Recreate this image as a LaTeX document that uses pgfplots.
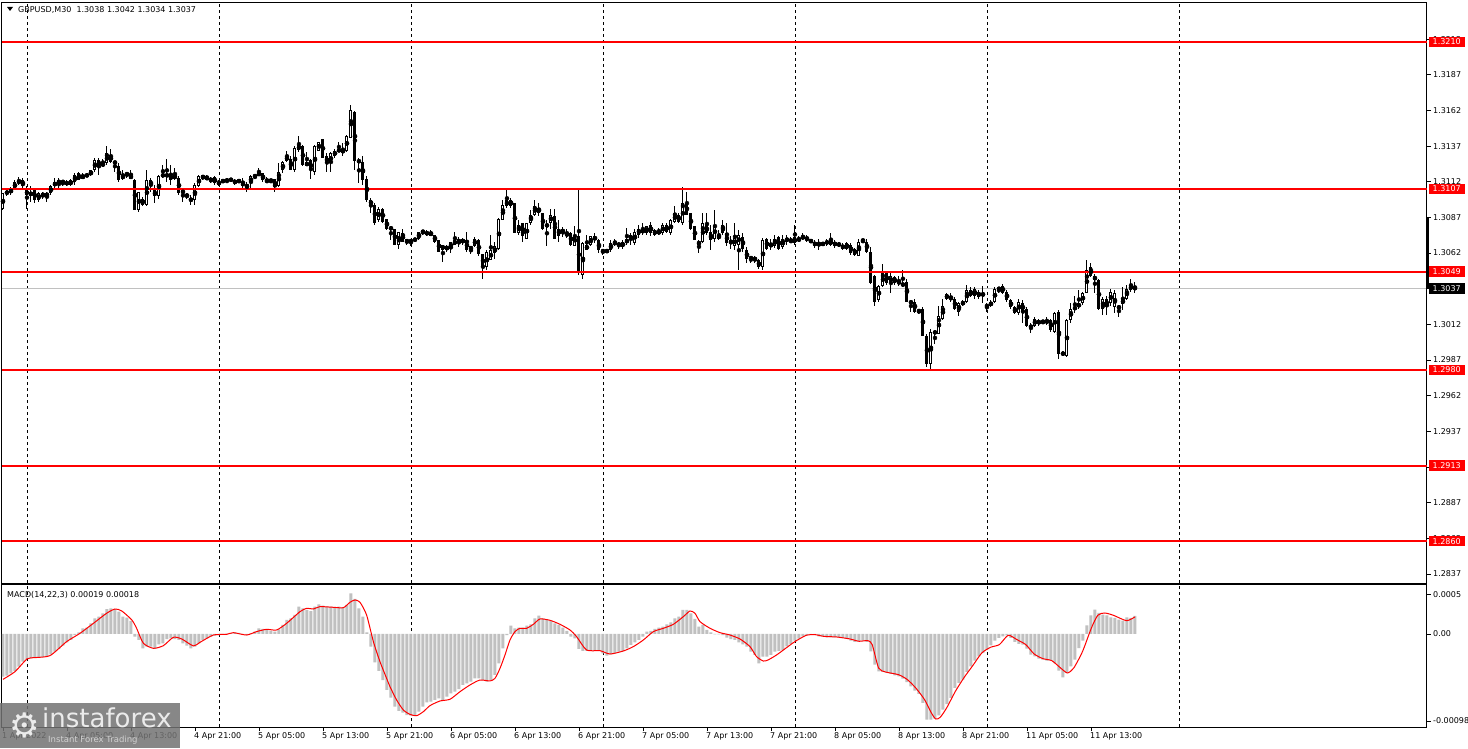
\documentclass[border=0pt]{standalone}
\usepackage{pgfplots}
\pgfplotsset{compat=1.18}
\usepackage{pgfplotstable}
\usepackage{fontspec}
\setmainfont{DejaVu Sans}
\definecolor{mtred}{RGB}{255,0,0}
\definecolor{mtsilver}{RGB}{192,192,192}

% GBPUSD M30 candles: bar index (4 px per bar), open high low close
\pgfplotstableread{
i o h l c
-6 1.3093 1.3104 1.3092 1.3104
-5 1.3104 1.3107 1.3102 1.3105
-4 1.3105 1.3108 1.3103 1.3106
-3 1.3107 1.3113 1.3106 1.3112
-2 1.3113 1.3115 1.3110 1.3111
-1 1.3113 1.3115 1.3106 1.3109
0 1.3106 1.3109 1.3093 1.3103
1 1.3102 1.3109 1.3098 1.3105
2 1.3106 1.3108 1.3097 1.3099
3 1.3099 1.3105 1.3098 1.3104
4 1.3103 1.3105 1.3100 1.3103
5 1.3104 1.3105 1.3098 1.3102
6 1.3104 1.3110 1.3103 1.3109
7 1.3109 1.3115 1.3106 1.3112
8 1.3111 1.3115 1.3106 1.3113
9 1.3112 1.3113 1.3109 1.3112
10 1.3112 1.3113 1.3109 1.3110
11 1.3110 1.3114 1.3109 1.3113
12 1.3112 1.3118 1.3110 1.3117
13 1.3118 1.3119 1.3113 1.3113
14 1.3114 1.3118 1.3114 1.3117
15 1.3116 1.3118 1.3115 1.3117
16 1.3117 1.3120 1.3116 1.3120
17 1.3120 1.3129 1.3119 1.3127
18 1.3127 1.3129 1.3117 1.3123
19 1.3123 1.3128 1.3123 1.3125
20 1.3125 1.3137 1.3124 1.3132
21 1.3131 1.3135 1.3125 1.3126
22 1.3126 1.3127 1.3119 1.3125
23 1.3123 1.3125 1.3112 1.3113
24 1.3114 1.3120 1.3113 1.3117
25 1.3117 1.3119 1.3115 1.3118
26 1.3117 1.3120 1.3114 1.3114
27 1.3113 1.3114 1.3092 1.3092
28 1.3092 1.3105 1.3091 1.3105
29 1.3100 1.3101 1.3095 1.3096
30 1.3096 1.3120 1.3095 1.3113
31 1.3113 1.3115 1.3105 1.3109
32 1.3106 1.3110 1.3097 1.3102
33 1.3102 1.3117 1.3100 1.3116
34 1.3116 1.3124 1.3115 1.3117
35 1.3117 1.3128 1.3112 1.3116
36 1.3113 1.3124 1.3110 1.3117
37 1.3117 1.3122 1.3113 1.3114
38 1.3115 1.3116 1.3103 1.3104
39 1.3106 1.3107 1.3098 1.3104
40 1.3103 1.3104 1.3100 1.3102
41 1.3100 1.3103 1.3096 1.3099
42 1.3099 1.3111 1.3096 1.3110
43 1.3109 1.3117 1.3108 1.3116
44 1.3114 1.3117 1.3113 1.3117
45 1.3116 1.3117 1.3113 1.3113
46 1.3114 1.3115 1.3111 1.3113
47 1.3115 1.3116 1.3110 1.3111
48 1.3110 1.3113 1.3109 1.3112
49 1.3112 1.3114 1.3111 1.3113
50 1.3113 1.3114 1.3111 1.3113
51 1.3113 1.3115 1.3112 1.3114
52 1.3112 1.3114 1.3110 1.3112
53 1.3112 1.3114 1.3111 1.3113
54 1.3112 1.3115 1.3108 1.3109
55 1.3108 1.3112 1.3105 1.3110
56 1.3111 1.3117 1.3107 1.3116
57 1.3116 1.3117 1.3114 1.3116
58 1.3116 1.3122 1.3116 1.3119
59 1.3118 1.3118 1.3112 1.3113
60 1.3112 1.3115 1.3111 1.3113
61 1.3112 1.3114 1.3112 1.3113
62 1.3114 1.3114 1.3105 1.3108
63 1.3109 1.3125 1.3108 1.3119
64 1.3120 1.3127 1.3118 1.3126
65 1.3127 1.3134 1.3126 1.3130
66 1.3128 1.3130 1.3120 1.3120
67 1.3120 1.3137 1.3119 1.3136
68 1.3134 1.3144 1.3133 1.3138
69 1.3137 1.3138 1.3123 1.3124
70 1.3126 1.3133 1.3123 1.3123
71 1.3127 1.3128 1.3114 1.3120
72 1.3119 1.3138 1.3117 1.3137
73 1.3134 1.3140 1.3134 1.3140
74 1.3142 1.3142 1.3129 1.3129
75 1.3130 1.3132 1.3119 1.3125
76 1.3125 1.3133 1.3119 1.3132
77 1.3130 1.3135 1.3129 1.3134
78 1.3133 1.3140 1.3133 1.3135
79 1.3135 1.3139 1.3130 1.3132
80 1.3134 1.3145 1.3133 1.3144
81 1.3143 1.3166 1.3143 1.3162
82 1.3161 1.3162 1.3120 1.3127
83 1.3127 1.3129 1.3111 1.3126
84 1.3126 1.3130 1.3110 1.3113
85 1.3114 1.3116 1.3098 1.3099
86 1.3099 1.3101 1.3090 1.3096
87 1.3096 1.3097 1.3082 1.3083
88 1.3085 1.3094 1.3084 1.3093
89 1.3093 1.3094 1.3083 1.3084
90 1.3086 1.3086 1.3078 1.3079
91 1.3080 1.3081 1.3071 1.3079
92 1.3079 1.3079 1.3068 1.3068
93 1.3068 1.3077 1.3065 1.3077
94 1.3076 1.3079 1.3070 1.3070
95 1.3072 1.3072 1.3068 1.3069
96 1.3070 1.3072 1.3067 1.3071
97 1.3072 1.3073 1.3070 1.3071
98 1.3072 1.3077 1.3071 1.3077
99 1.3076 1.3078 1.3075 1.3078
100 1.3077 1.3078 1.3074 1.3075
101 1.3074 1.3078 1.3074 1.3077
102 1.3075 1.3075 1.3069 1.3070
103 1.3071 1.3071 1.3063 1.3063
104 1.3064 1.3068 1.3056 1.3068
105 1.3067 1.3068 1.3063 1.3064
106 1.3065 1.3070 1.3062 1.3070
107 1.3068 1.3077 1.3068 1.3071
108 1.3072 1.3073 1.3066 1.3069
109 1.3069 1.3073 1.3068 1.3072
110 1.3071 1.3077 1.3063 1.3064
111 1.3064 1.3067 1.3061 1.3067
112 1.3067 1.3073 1.3066 1.3072
113 1.3071 1.3072 1.3060 1.3061
114 1.3061 1.3061 1.3044 1.3052
115 1.3052 1.3064 1.3050 1.3063
116 1.3057 1.3075 1.3057 1.3064
117 1.3062 1.3070 1.3058 1.3067
118 1.3065 1.3087 1.3064 1.3086
119 1.3085 1.3099 1.3085 1.3096
120 1.3095 1.3107 1.3094 1.3099
121 1.3099 1.3101 1.3094 1.3095
122 1.3097 1.3097 1.3076 1.3076
123 1.3076 1.3085 1.3075 1.3082
124 1.3083 1.3083 1.3070 1.3074
125 1.3072 1.3083 1.3072 1.3083
126 1.3083 1.3092 1.3082 1.3089
127 1.3089 1.3099 1.3088 1.3095
128 1.3094 1.3097 1.3088 1.3090
129 1.3090 1.3090 1.3078 1.3079
130 1.3082 1.3085 1.3067 1.3081
131 1.3083 1.3093 1.3079 1.3089
132 1.3088 1.3093 1.3072 1.3072
133 1.3079 1.3085 1.3070 1.3074
134 1.3079 1.3080 1.3073 1.3076
135 1.3076 1.3079 1.3073 1.3074
136 1.3076 1.3077 1.3067 1.3068
137 1.3067 1.3081 1.3067 1.3075
138 1.3074 1.3108 1.3047 1.3048
139 1.3047 1.3070 1.3044 1.3069
140 1.3064 1.3075 1.3064 1.3068
141 1.3068 1.3074 1.3067 1.3074
142 1.3074 1.3076 1.3069 1.3071
143 1.3071 1.3072 1.3062 1.3064
144 1.3064 1.3065 1.3061 1.3063
145 1.3063 1.3065 1.3062 1.3064
146 1.3064 1.3071 1.3063 1.3069
147 1.3068 1.3072 1.3067 1.3070
148 1.3069 1.3070 1.3065 1.3067
149 1.3066 1.3071 1.3065 1.3070
150 1.3069 1.3080 1.3068 1.3072
151 1.3071 1.3076 1.3068 1.3075
152 1.3069 1.3079 1.3068 1.3077
153 1.3075 1.3082 1.3073 1.3079
154 1.3079 1.3083 1.3075 1.3076
155 1.3076 1.3081 1.3075 1.3081
156 1.3082 1.3084 1.3074 1.3076
157 1.3075 1.3079 1.3074 1.3078
158 1.3076 1.3080 1.3075 1.3077
159 1.3076 1.3083 1.3075 1.3082
160 1.3082 1.3083 1.3076 1.3077
161 1.3076 1.3086 1.3075 1.3085
162 1.3084 1.3095 1.3083 1.3090
163 1.3089 1.3090 1.3083 1.3084
164 1.3083 1.3108 1.3082 1.3097
165 1.3097 1.3105 1.3089 1.3089
166 1.3090 1.3090 1.3078 1.3079
167 1.3081 1.3081 1.3071 1.3071
168 1.3068 1.3071 1.3062 1.3070
169 1.3070 1.3090 1.3069 1.3083
170 1.3082 1.3090 1.3075 1.3076
171 1.3077 1.3082 1.3064 1.3071
172 1.3072 1.3092 1.3070 1.3082
173 1.3072 1.3078 1.3071 1.3075
174 1.3082 1.3085 1.3075 1.3076
175 1.3076 1.3083 1.3067 1.3069
176 1.3069 1.3074 1.3065 1.3071
177 1.3067 1.3083 1.3064 1.3073
178 1.3068 1.3078 1.3050 1.3075
179 1.3073 1.3076 1.3063 1.3065
180 1.3064 1.3066 1.3055 1.3058
181 1.3058 1.3060 1.3055 1.3059
182 1.3058 1.3060 1.3055 1.3058
183 1.3057 1.3058 1.3051 1.3052
184 1.3052 1.3073 1.3050 1.3071
185 1.3072 1.3073 1.3064 1.3065
186 1.3066 1.3072 1.3064 1.3069
187 1.3067 1.3075 1.3066 1.3072
188 1.3073 1.3074 1.3064 1.3065
189 1.3066 1.3075 1.3065 1.3072
190 1.3073 1.3075 1.3068 1.3070
191 1.3070 1.3073 1.3069 1.3071
192 1.3069 1.3082 1.3068 1.3073
193 1.3071 1.3074 1.3070 1.3072
194 1.3072 1.3076 1.3071 1.3074
195 1.3073 1.3075 1.3070 1.3071
196 1.3071 1.3072 1.3069 1.3070
197 1.3070 1.3071 1.3066 1.3067
198 1.3068 1.3072 1.3064 1.3069
199 1.3068 1.3070 1.3067 1.3069
200 1.3069 1.3072 1.3067 1.3070
201 1.3071 1.3076 1.3067 1.3068
202 1.3070 1.3071 1.3066 1.3067
203 1.3067 1.3070 1.3066 1.3069
204 1.3068 1.3069 1.3064 1.3065
205 1.3065 1.3070 1.3064 1.3069
206 1.3068 1.3069 1.3061 1.3062
207 1.3061 1.3066 1.3060 1.3065
208 1.3060 1.3072 1.3060 1.3070
209 1.3070 1.3072 1.3070 1.3071
210 1.3070 1.3072 1.3062 1.3063
211 1.3063 1.3066 1.3040 1.3041
212 1.3046 1.3047 1.3025 1.3028
213 1.3029 1.3040 1.3028 1.3039
214 1.3039 1.3054 1.3038 1.3048
215 1.3048 1.3049 1.3040 1.3041
216 1.3041 1.3048 1.3034 1.3046
217 1.3041 1.3046 1.3040 1.3045
218 1.3042 1.3046 1.3039 1.3041
219 1.3039 1.3050 1.3038 1.3041
220 1.3042 1.3044 1.3028 1.3028
221 1.3028 1.3029 1.3021 1.3027
222 1.3028 1.3030 1.3020 1.3021
223 1.3022 1.3023 1.3019 1.3021
224 1.3023 1.3024 1.3004 1.3004
225 1.3004 1.3005 1.2982 1.2984
226 1.2984 1.3009 1.2980 1.3007
227 1.3007 1.3007 1.2998 1.3006
228 1.3005 1.3025 1.3005 1.3018
229 1.3016 1.3030 1.3015 1.3025
230 1.3030 1.3034 1.3029 1.3033
231 1.3032 1.3034 1.3028 1.3029
232 1.3030 1.3031 1.3022 1.3023
233 1.3021 1.3028 1.3018 1.3027
234 1.3026 1.3029 1.3025 1.3028
235 1.3028 1.3040 1.3027 1.3036
236 1.3036 1.3038 1.3031 1.3032
237 1.3032 1.3038 1.3030 1.3037
238 1.3031 1.3036 1.3030 1.3035
239 1.3034 1.3039 1.3027 1.3032
240 1.3025 1.3027 1.3021 1.3025
241 1.3025 1.3029 1.3024 1.3028
242 1.3028 1.3038 1.3027 1.3037
243 1.3037 1.3038 1.3034 1.3037
244 1.3039 1.3040 1.3033 1.3034
245 1.3035 1.3036 1.3028 1.3029
246 1.3029 1.3030 1.3023 1.3024
247 1.3024 1.3025 1.3019 1.3020
248 1.3020 1.3030 1.3019 1.3028
249 1.3027 1.3029 1.3013 1.3021
250 1.3023 1.3024 1.3010 1.3011
251 1.3012 1.3013 1.3006 1.3009
252 1.3011 1.3017 1.3010 1.3016
253 1.3015 1.3016 1.3011 1.3012
254 1.3014 1.3015 1.3012 1.3014
255 1.3013 1.3017 1.3012 1.3015
256 1.3015 1.3016 1.3007 1.3008
257 1.3007 1.3021 1.3006 1.3020
258 1.3021 1.3022 1.2988 1.2991
259 1.2992 1.2993 1.2990 1.2991
260 1.2990 1.3016 1.2989 1.3015
261 1.3015 1.3027 1.3013 1.3023
262 1.3023 1.3032 1.3020 1.3024
263 1.3024 1.3036 1.3023 1.3027
264 1.3027 1.3035 1.3026 1.3034
265 1.3034 1.3057 1.3034 1.3050
266 1.3052 1.3055 1.3045 1.3046
267 1.3046 1.3047 1.3034 1.3043
268 1.3043 1.3044 1.3022 1.3023
269 1.3023 1.3031 1.3019 1.3030
270 1.3030 1.3032 1.3019 1.3024
271 1.3027 1.3037 1.3025 1.3035
272 1.3024 1.3036 1.3020 1.3034
273 1.3025 1.3026 1.3017 1.3023
274 1.3026 1.3038 1.3022 1.3030
275 1.3030 1.3040 1.3029 1.3037
276 1.3040 1.3044 1.3035 1.3036
277 1.3038 1.3042 1.3034 1.3037
}\candles

% MACD(14,22,3) histogram, in units of 0.00001
\pgfplotstableread{
i v
-6 -45.0
-5 -43.9
-4 -41.4
-3 -39.0
-2 -34.4
-1 -29.2
0 -26.3
1 -25.6
2 -24.9
3 -24.9
4 -24.2
5 -23.5
6 -21.4
7 -18.6
8 -15.8
9 -12.3
10 -8.8
11 -6.3
12 -1.1
13 1.8
14 6.0
15 6.7
16 11.2
17 16.5
18 18.3
19 21.8
20 26.3
21 27.0
22 26.3
23 23.5
24 18.3
25 17.2
26 13.7
27 -2.8
28 -6.3
29 -15.1
30 -13.3
31 -13.3
32 -15.8
33 -10.9
34 -9.8
35 -5.3
36 -4.6
37 -5.3
38 -6.3
39 -9.8
40 -12.3
41 -15.1
42 -13.3
43 -9.8
44 -6.3
45 -4.6
46 -2.8
47 -1.8
48 -1.1
49 -0.4
50 0.4
51 0.7
52 1.8
53 1.1
54 -0.4
55 -1.1
56 0.7
57 2.5
58 6.0
59 5.3
60 4.2
61 3.2
62 2.5
63 4.9
64 9.5
65 14.8
66 16.5
67 20.0
68 28.8
69 27.0
70 25.3
71 24.2
72 28.8
73 31.3
74 29.9
75 28.8
76 28.8
77 27.7
78 28.8
79 27.7
80 30.6
81 42.9
82 36.9
83 27.0
84 18.3
85 1.8
86 -13.3
87 -29.9
88 -39.0
89 -48.5
90 -59.0
91 -67.1
92 -76.6
93 -81.1
94 -82.9
95 -85.4
96 -86.1
97 -85.4
98 -81.8
99 -76.6
100 -72.0
101 -71.3
102 -69.5
103 -67.8
104 -69.5
105 -66.0
106 -62.5
107 -60.8
108 -58.0
109 -53.7
110 -52.0
111 -50.2
112 -46.7
113 -46.7
114 -48.5
115 -50.2
116 -48.5
117 -43.2
118 -30.9
119 -15.1
120 -1.1
121 8.8
122 6.0
123 6.7
124 6.7
125 8.8
126 10.2
127 16.5
128 19.3
129 16.5
130 14.8
131 13.7
132 11.2
133 9.5
134 6.7
135 3.2
136 -2.8
137 -4.6
138 -15.8
139 -17.9
140 -17.9
141 -17.9
142 -17.9
143 -17.9
144 -20.4
145 -22.8
146 -21.4
147 -20.4
148 -18.6
149 -17.9
150 -15.1
151 -11.6
152 -8.8
153 -6.3
154 -2.8
155 2.5
156 3.2
157 5.3
158 6.7
159 7.7
160 10.2
161 12.3
162 16.5
163 18.3
164 25.3
165 25.3
166 21.8
167 15.8
168 7.7
169 9.5
170 4.2
171 1.8
172 -0.4
173 -0.4
174 -1.1
175 -3.9
176 -5.3
177 -6.3
178 -8.8
179 -10.9
180 -13.3
181 -18.6
182 -22.1
183 -30.9
184 -23.9
185 -23.9
186 -22.1
187 -18.6
188 -17.9
189 -16.9
190 -13.0
191 -10.5
192 -7.0
193 -4.9
194 -2.5
195 -1.4
196 -0.7
197 -0.7
198 -2.5
199 -2.5
200 -3.5
201 -3.5
202 -3.5
203 -3.5
204 -4.2
205 -4.9
206 -7.0
207 -8.4
208 -7.7
209 -7.0
210 -8.4
211 -18.3
212 -32.3
213 -39.3
214 -40.0
215 -41.1
216 -42.1
217 -43.6
218 -44.6
219 -47.1
220 -50.6
221 -55.1
222 -59.7
223 -63.2
224 -72.7
225 -90.3
226 -90.3
227 -89.2
228 -85.7
229 -79.7
230 -73.8
231 -67.4
232 -56.9
233 -51.6
234 -48.1
235 -40.0
236 -34.1
237 -28.1
238 -23.5
239 -20.0
240 -16.5
241 -11.9
242 -7.0
243 -4.2
244 -2.5
245 -1.4
246 -4.2
247 -8.4
248 -10.5
249 -11.2
250 -15.5
251 -21.8
252 -23.5
253 -26.0
254 -27.0
255 -28.1
256 -28.1
257 -30.6
258 -38.6
259 -45.7
260 -41.1
261 -34.1
262 -27.0
263 -14.8
264 -7.0
265 9.1
266 19.7
267 25.6
268 22.1
269 20.4
270 19.7
271 17.6
272 16.9
273 15.1
274 14.0
275 17.6
276 16.9
277 19.0
}\macdhist

% MACD signal line, in units of 0.00001
\pgfplotstableread{
i s
-6 -47.8
-3 -39.7
0 -26.3
2 -24.9
5.75 -22.8
9.9 -8.1
13.25 0.7
16.6 11.2
19.9 21.8
22 26.3
23.7 24.2
26.2 14.8
27.4 6.0
29.1 -9.8
31.6 -15.1
34.1 -12.3
36.6 -3.5
38.7 -5.3
41.6 -12.6
43.25 -8.8
46.6 -1.1
49.9 -0.4
51.6 1.4
54.9 -1.1
57.4 2.5
59.9 4.9
62.4 4.2
64.9 11.2
68.25 23.5
69.9 27.0
71.6 26.3
73.25 28.8
76.6 28.1
79.1 27.7
80.75 33.4
82 35.8
83.25 33.4
84.9 20.0
86.6 -8.1
88.25 -29.2
89.9 -46.7
90.75 -55.5
92.4 -69.5
94.1 -80.1
95.75 -84.7
97.4 -86.1
99.1 -81.8
100.75 -75.5
103.25 -70.6
105.75 -68.8
108.25 -60.8
110.75 -53.7
113.25 -48.5
115.75 -49.5
117 -46.7
118.25 -36.2
119.5 -22.1
120.75 -6.3
122 2.5
123.25 6.0
124.9 6.0
126.6 10.2
128.25 15.8
130.75 14.4
133.25 10.2
135.75 4.2
137.4 -2.8
139.9 -16.9
143.25 -17.6
145.75 -21.1
149.1 -17.9
151.6 -13.3
154.1 -6.3
156.6 2.5
159.1 6.0
161.6 10.2
164.1 18.3
165.75 24.2
167 21.8
168.25 13.0
170.75 6.0
173.25 1.4
175.75 -1.1
178.25 -5.3
180.75 -13.3
182.4 -23.9
184.1 -28.5
185.25 -27.4
187.4 -22.1
190.5 -12.5
192.1 -7.7
194.8 -1.4
197 -0.7
199.2 -2.5
202.5 -3.2
205.8 -5.3
208 -7.7
210.2 -7.0
211.3 -11.2
212.9 -35.8
214.6 -40.0
217.9 -42.9
220.1 -48.1
222.2 -56.9
224.4 -69.2
226.1 -83.2
227.2 -89.6
228.3 -87.8
229.9 -78.0
232.1 -60.4
234.3 -45.7
236.5 -33.0
238.7 -20.0
240.9 -14.0
243.1 -11.2
245.3 -1.4
247.5 -6.0
249.7 -11.2
251.8 -21.1
254 -26.0
256.2 -28.1
258.4 -35.8
260.1 -41.1
261.7 -35.8
263.9 -18.3
266.1 6.3
267.7 19.7
269.4 22.1
271.6 19.7
274.9 14.0
277 18.0
}\macdsig

\begin{document}
\begin{tikzpicture}[font=\fontsize{8}{9.5}\selectfont]
\path[use as bounding box, fill=white] (0pt,0pt) rectangle (1468pt,748pt);

% ---- price window ----
\begin{axis}[
    at={(2pt,165pt)}, anchor=south west,
    scale only axis, width=1425pt, height=580pt,
    xmin=-6.25, xmax=350, ymin=1.283065, ymax=1.323735,
    clip=false,
    axis line style={black, line width=1pt},
    xtick={0,48,...,288}, xticklabels={}, xtick style={draw=none},
    xmajorgrids,
    grid style={black, line width=0.8pt, dash pattern=on 3pt off 3pt},
    ytick={1.2837,1.2862,1.2887,1.2912,1.2937,1.2962,1.2987,1.3012,1.3037,1.3062,1.3087,1.3112,1.3137,1.3162,1.3187,1.3212},
    yticklabels={1.2837,1.2862,1.2887,1.2912,1.2937,1.2962,1.2987,1.3012,1.3037,1.3062,1.3087,1.3112,1.3137,1.3162,1.3187,1.3212},
    ytick pos=right, yticklabel pos=right, ytick align=outside,
    major tick length=4pt,
    ytick style={black, line width=0.8pt},
    yticklabel style={anchor=west, inner sep=2pt},
]
% current price line
\addplot[mtsilver, line width=1pt] coordinates {(-6.25,1.3037) (350,1.3037)};
% wicks
\addplot[only marks, mark=none, error bars/.cd, y dir=both, y explicit,
    error mark=none, error bar style={black, line width=1pt}]
  table[x=i, y expr={(\thisrow{h}+\thisrow{l})/2},
        y error expr={(\thisrow{h}-\thisrow{l})/2}] {\candles};
% bodies
\addplot[only marks, mark=none, error bars/.cd, y dir=both, y explicit,
    error mark=none, error bar style={black, line width=3pt}]
  table[x=i, y expr={(\thisrow{o}+\thisrow{c})/2},
        y error expr={max(abs(\thisrow{c}-\thisrow{o})/2,0.00004)}] {\candles};
% hollow inside of rising bodies
\addplot[only marks, mark=none, error bars/.cd, y dir=both, y explicit,
    error mark=none, error bar style={white, line width=1pt}]
  table[x=i, y expr={(\thisrow{o}+\thisrow{c})/2},
        y error expr={max((\thisrow{c}-\thisrow{o})/2-0.00007,0)}] {\candles};
% support / resistance levels
\addplot[mtred, line width=2pt] coordinates {(-6.25,1.3210) (350,1.3210)};
\addplot[mtred, line width=2pt] coordinates {(-6.25,1.3107) (350,1.3107)};
\addplot[mtred, line width=2pt] coordinates {(-6.25,1.3049) (350,1.3049)};
\addplot[mtred, line width=2pt] coordinates {(-6.25,1.2980) (350,1.2980)};
\addplot[mtred, line width=2pt] coordinates {(-6.25,1.2913) (350,1.2913)};
\addplot[mtred, line width=2pt] coordinates {(-6.25,1.2860) (350,1.2860)};
\coordinate (L1) at (axis cs:350,1.3210);
\coordinate (L2) at (axis cs:350,1.3107);
\coordinate (L3) at (axis cs:350,1.3049);
\coordinate (L4) at (axis cs:350,1.2980);
\coordinate (L5) at (axis cs:350,1.2913);
\coordinate (L6) at (axis cs:350,1.2860);
\coordinate (LC) at (axis cs:350,1.3037);
\coordinate (BT) at (axis cs:350,1.3087);
\end{axis}

% price tags on the scale
\tikzset{tag/.style={anchor=west, inner sep=0pt, minimum width=36pt, minimum height=10.5pt, text=white, xshift=1.5pt}}
\draw[black, line width=2.5pt] ([xshift=0.5pt]BT) -- ([xshift=0.5pt]LC);
\node[tag, fill=mtred] at (L1) {1.3210};
\node[tag, fill=mtred] at (L2) {1.3107};
\node[tag, fill=mtred] at (L3) {1.3049};
\node[tag, fill=mtred] at (L4) {1.2980};
\node[tag, fill=mtred] at (L5) {1.2913};
\node[tag, fill=mtred] at (L6) {1.2860};
\node[tag, fill=black] at (LC) {1.3037};

% header
\fill[black] (7pt,741pt) -- (13pt,741pt) -- (10pt,737pt) -- cycle;
\node[anchor=west, inner sep=0pt] at (18pt,738pt) {GBPUSD,M30 \ 1.3038 1.3042 1.3034 1.3037};

% ---- MACD window ----
\begin{axis}[
    at={(2pt,21pt)}, anchor=south west,
    scale only axis, width=1425pt, height=142pt,
    xmin=-6.25, xmax=350, ymin=-98, ymax=51.6,
    axis line style={black, line width=1pt},
    xtick={-6,10,...,266},
    xticklabels={1 Apr 2022,4 Apr 05:00,4 Apr 13:00,4 Apr 21:00,5 Apr 05:00,5 Apr 13:00,5 Apr 21:00,6 Apr 05:00,6 Apr 13:00,6 Apr 21:00,7 Apr 05:00,7 Apr 13:00,7 Apr 21:00,8 Apr 05:00,8 Apr 13:00,8 Apr 21:00,11 Apr 05:00,11 Apr 13:00},
    xtick pos=bottom, xtick align=outside,
    xticklabel style={anchor=north west, inner sep=0pt, xshift=-1pt, yshift=-1pt},
    extra x ticks={0,48,...,288}, extra x tick labels={},
    extra x tick style={grid=major, major tick length=0pt},
    grid style={black, line width=0.8pt, dash pattern=on 3pt off 3pt},
    ytick={-91.7,0,42}, yticklabels={-0.00098,0.00,0.0005},
    ytick pos=right, yticklabel pos=right, ytick align=outside,
    major tick length=4pt,
    tick style={black, line width=0.8pt},
    yticklabel style={anchor=west, inner sep=2pt},
]
\addplot[ybar, bar width=3pt, fill=mtsilver, draw=none] table[x=i, y=v] {\macdhist};
\addplot[mtred, line width=1pt, smooth, tension=0.4] table[x=i, y=s] {\macdsig};
\end{axis}
\node[anchor=west, inner sep=0pt] at (7pt,153pt) {MACD(14,22,3) 0.00019 0.00018};

% ---- watermark ----
\fill[black!55, fill opacity=0.85] (0pt,0pt) rectangle (180pt,45pt);
\node[text=white!92!black, inner sep=0pt, font=\fontsize{34}{34}\selectfont] at (25pt,23pt) {⚙};
\node[anchor=base west, text=white!92!black, inner sep=0pt, font=\fontsize{26}{26}\selectfont] at (42pt,21pt) {instaforex};
\node[anchor=base west, text=white!82!black, inner sep=0pt, font=\fontsize{8.5}{9}\selectfont] at (48pt,6pt) {Instant Forex Trading};
\end{tikzpicture}
\end{document}
